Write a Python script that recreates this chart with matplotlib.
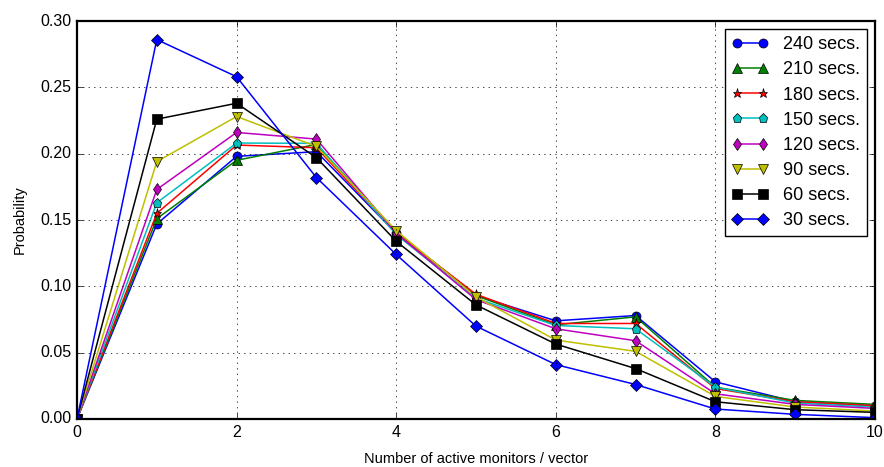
## Distribution of active monitors per vector for several window lengths

import numpy as np
import matplotlib
matplotlib.use('Agg')
import matplotlib.pyplot as plt

plt.style.use('classic')
plt.rcParams['figure.facecolor'] = 'white'
plt.rcParams['savefig.facecolor'] = 'white'
plt.rcParams['font.family'] = ['Liberation Sans', 'DejaVu Sans']

monitors = [0, 1, 2, 3, 4, 5, 6, 7, 8, 9, 10]

p240 = [0.0, 0.147, 0.198, 0.2015, 0.140, 0.093, 0.074, 0.078, 0.028, 0.013, 0.010]
p210 = [0.0, 0.151, 0.195, 0.207, 0.141, 0.093, 0.071, 0.077, 0.024, 0.014, 0.011]
p180 = [0.0, 0.155, 0.2065, 0.2045, 0.140, 0.094, 0.072, 0.072, 0.023, 0.013, 0.010]
p150 = [0.0, 0.163, 0.208, 0.2078, 0.139, 0.091, 0.0705, 0.068, 0.024, 0.012, 0.009]
p120 = [0.0, 0.173, 0.216, 0.211, 0.140, 0.090, 0.068, 0.059, 0.019, 0.011, 0.008]
p90 = [0.0, 0.194, 0.228, 0.2055, 0.142, 0.092, 0.0595, 0.051, 0.017, 0.009, 0.006]
p60 = [0.0, 0.226, 0.238, 0.197, 0.134, 0.086, 0.0565, 0.038, 0.013, 0.007, 0.005]
p30 = [0.0, 0.286, 0.258, 0.182, 0.124, 0.070, 0.041, 0.026, 0.0075, 0.0035, 0.001]

series = [p240, p210, p180, p150, p120, p90, p60, p30]
labels = ['240 secs.', '210 secs.', '180 secs.', '150 secs.',
          '120 secs.', '90 secs.', '60 secs.', '30 secs.']
styles = ['bo-', 'g^-', 'r*-', 'cp-', 'md-', 'yv-', 'ks-', 'bD-']

fig = plt.figure(figsize=(8.84, 4.67), dpi=100)
ax = fig.add_axes([0.0871, 0.1028, 0.9027, 0.8522])

for vals, lab, st in zip(series, labels, styles):
    ax.plot(monitors, vals, st, label=lab, markersize=6.5, linewidth=1.1)

ax.set_xlim(0, 10)
ax.set_ylim(0, 0.30)
ax.set_xticks(np.arange(0, 11, 2))
ax.set_yticks(np.arange(0, 0.301, 0.05))
ax.yaxis.set_major_formatter(matplotlib.ticker.FormatStrFormatter('%.2f'))
ax.tick_params(labelsize=11.5)
for s in ax.spines.values():
    s.set_linewidth(1.6)
ax.grid(True)
ax.set_xlabel('Number of active monitors / vector', fontsize=10.5, labelpad=9)
ax.set_ylabel('Probability', fontsize=10.5, labelpad=10)
ax.legend(loc='upper right', fontsize=13, numpoints=2, borderaxespad=0.45,
          labelspacing=0.45)

plt.savefig('out.png', dpi=100)
